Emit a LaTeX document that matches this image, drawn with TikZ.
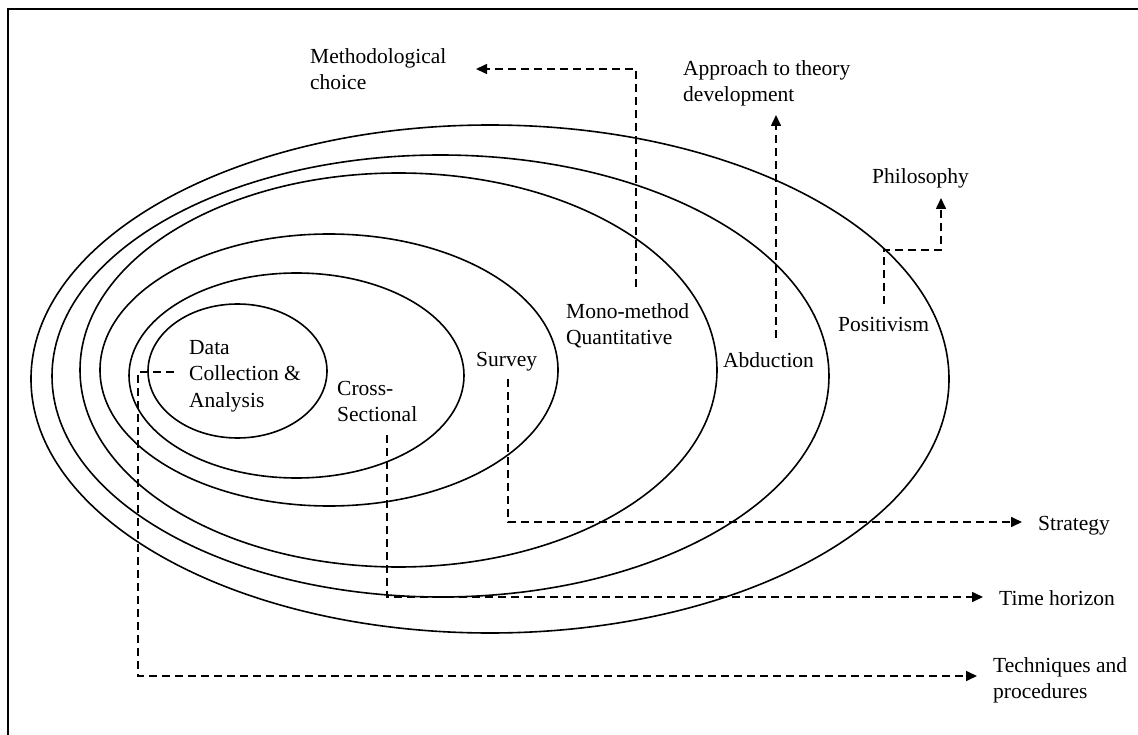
\documentclass[tikz,border=0pt]{standalone}
\usepackage{fontspec}
\setmainfont{Liberation Serif}
\usetikzlibrary{arrows.meta}
\begin{document}
\begin{tikzpicture}[x=1pt,y=-1pt,
    layer/.style={line width=1.6pt},
    lbl/.style={inner sep=0pt, anchor=north west, align=left,
      font=\fontsize{21.5}{26.5}\selectfont},
    dasharrow/.style={line width=1.6pt, dash pattern=on 8pt off 5pt,
      -{Triangle[length=11pt,width=10pt]}}]
  \useasboundingbox (0,0) rectangle (1138,735);
  % outer frame (open at the right and bottom)
  \draw[line width=1.8pt] (8,735) -- (8,9) -- (1138,9);

  % research onion layers, outer to inner
  \draw[layer] (490,379) ellipse [x radius=459pt, y radius=254pt];
  \draw[layer] (440.5,376) ellipse [x radius=388.5pt, y radius=221pt];
  \draw[layer] (398.5,370) ellipse [x radius=318.5pt, y radius=197pt];
  \draw[layer] (329,370) ellipse [x radius=229pt, y radius=136pt];
  \draw[layer] (296.5,375.5) ellipse [x radius=167.5pt, y radius=102.5pt];
  \draw[layer] (237.5,371) ellipse [x radius=89.5pt, y radius=67pt];

  % labels
  \node[lbl] (methchoice) at (310,48) {Methodological\\choice};
  \node[lbl] (approach) at (683,60) {Approach to theory\\development};
  \node[lbl] (philosophy) at (872,168) {Philosophy};
  \node[lbl] (mono) at (566,303) {Mono-method\\Quantitative};
  \node[lbl] (abduction) at (723,352) {Abduction};
  \node[lbl] (positivism) at (838,317) {Positivism};
  \node[lbl] (survey) at (476,352) {Survey};
  \node[lbl] (data) at (189,340) {Data\\Collection \&\\Analysis};
  \node[lbl] (cross) at (337,381) {Cross-\\Sectional};
  \node[lbl] (strategy) at (1038,516) {Strategy};
  \node[lbl] (time) at (999,590) {Time horizon};
  \node[lbl] (techniques) at (993,657) {Techniques and\\procedures};

  % connector end points
  \coordinate (monoA) at (636,287);
  \coordinate (monoB) at (476,69);
  \coordinate (abdA) at (776,338);
  \coordinate (abdB) at (776,115);
  \coordinate (posA) at (884,304);
  \coordinate (posB) at (941,250);
  \coordinate (posC) at (941,198);
  \coordinate (survA) at (508,379);
  \coordinate (survB) at (1022,522);
  \coordinate (crossA) at (387,435);
  \coordinate (crossB) at (983,597);
  \coordinate (dataA) at (174,372);
  \coordinate (dataB) at (138,676);
  \coordinate (dataC) at (977,676);

  % connectors
  \draw[dasharrow] (monoA) |- (monoB);
  \draw[dasharrow] (abdA) -- (abdB);
  \draw[dasharrow] (posA) |- (posB) -- (posC);
  \draw[dasharrow] (survA) |- (survB);
  \draw[dasharrow] (crossA) |- (crossB);
  \draw[dasharrow] (dataA) -| (dataB) -- (dataC);
\end{tikzpicture}
\end{document}
